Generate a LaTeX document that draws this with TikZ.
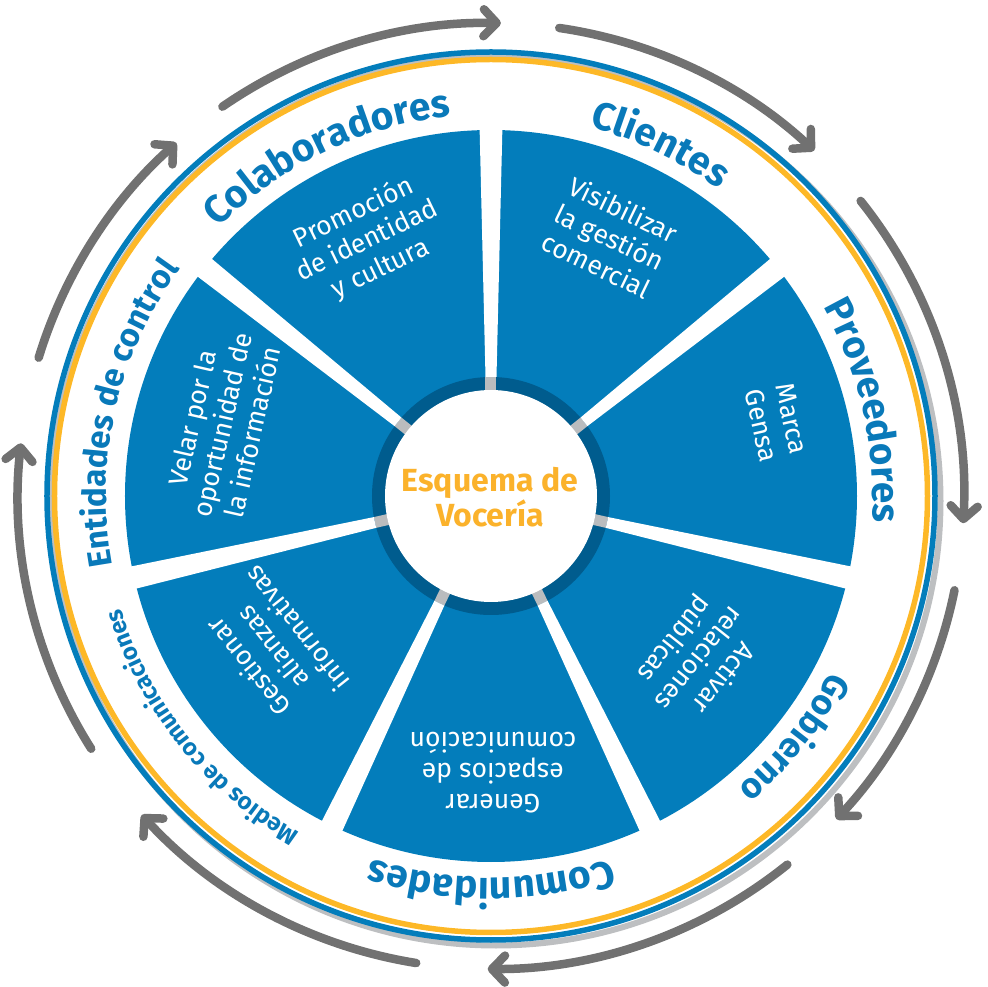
\documentclass[tikz,border=0pt]{standalone}
\usepackage{fontspec}
\setmainfont{Fira Sans}
\usetikzlibrary{arrows.meta,decorations.text}
\definecolor{sectorblue}{HTML}{037DBB}
\definecolor{ringdark}{HTML}{005C8E}
\definecolor{notchgray}{HTML}{BABCBE}
\definecolor{ringyellow}{HTML}{FDB827}
\definecolor{labelblue}{HTML}{0979B9}
\definecolor{titleyellow}{HTML}{FBB22B}
\definecolor{arrowgray}{HTML}{717171}
\definecolor{shadowgray}{HTML}{BDBFC1}
\begin{document}
\begin{tikzpicture}[x=1pt, y=1pt, line join=round, line cap=round,
	cyclearrow/.style={draw=arrowgray, line width=8.5pt, -{Straight Barb[length=13pt, width=27pt, round]}},
	sectortext/.style={text=white, align=center, font=\fontsize{26.5}{31}\selectfont},
	ringlabel/.style 2 args={decorate, decoration={text along path, text align=center,
		text={|\fontsize{#2}{#2}\selectfont\bfseries\color{labelblue}|#1}}}]
	\def\rin{106}
	\def\rdark{119}
	\def\rout{366}
	\useasboundingbox (-491,-491) rectangle (497,496);
	% outer ring
	\draw[shadowgray, line width=6pt] (5,-5) circle[radius=444.5];
	\draw[sectorblue, line width=5.5pt] (0,0) circle[radius=444];
	\draw[ringyellow, line width=5.5pt] (0,0) circle[radius=436.5];
	% sectors
	\fill[sectorblue] (0,0) circle[radius=\rout];
	\fill[ringdark] (0,0) circle[radius=\rdark];
	\foreach \k [evaluate=\k as \a using 90-\k*360/7] in {0,...,6}{
		\fill[notchgray, rotate=\a] (\rin-6,-5.5) -- (\rdark,-5.5) -- (\rdark,5.5) -- (\rin-6,5.5) -- cycle;
		\fill[white, rotate=\a] (\rdark,-5.5) -- (\rout+6,-11.5) -- (\rout+6,11.5) -- (\rdark,5.5) -- cycle;
	}
	\fill[white] (0,0) circle[radius=\rin];
	\node[font=\fontsize{32}{33}\selectfont\bfseries, text=titleyellow, align=center] (esquema) at (-1,-1) {Esquema de\\Vocería};
	% texts in the sectors
	\node[sectortext, rotate=25.71] (promo) at (115.9:283.5) {Promoción\\de identidad\\y cultura};
	\node[sectortext, rotate=-25.71] (visib) at (65.3:285) {Visibilizar\\la gestión\\comercial};
	\node[sectortext, rotate=-77.14] (marca) at (14.5:295) {Marca\\Gensa};
	\node[sectortext, rotate=-128.57] (activar) at (-38:263) {Activar\\relaciones\\públicas};
	\node[sectortext, rotate=180] (generar) at (-89.6:277) {Generar\\espacios de\\comunicación};
	\node[sectortext, rotate=128.57] (gestionar) at (-145.2:266.6) {Gestionar\\alianzas\\informativas};
	\node[sectortext, rotate=77.14] (velar) at (165.2:278) {Velar por la\\oportunidad de\\la información};
	% labels on the ring
	\path[ringlabel={Colaboradores}{39}] (165.71:382) arc[start angle=165.71, end angle=65.71, radius=382];
	\path[ringlabel={Clientes}{39}] (114.29:382) arc[start angle=114.29, end angle=14.29, radius=382];
	\path[ringlabel={Proveedores}{38.5}] (62.86:382) arc[start angle=62.86, end angle=-37.14, radius=382];
	\path[ringlabel={Gobierno}{35.5}] (11.43:382) arc[start angle=11.43, end angle=-88.57, radius=382];
	\path[ringlabel={Comunidades}{39}] (-40:382) arc[start angle=-40, end angle=-140, radius=382];
	\path[ringlabel={Medios de comunicaciones}{24}] (-91.43:387) arc[start angle=-91.43, end angle=-191.43, radius=387];
	\path[ringlabel={Entidades de control}{33}] (217.14:385) arc[start angle=217.14, end angle=117.14, radius=385];
	% cycle arrows
	\foreach \s/\e in {124.6/88.8, 81.7/46.9, 38.6/-3.3, -11.5/-43.1, -51.2/-90.4, -99.1/-137.6, -147.7/-186.4, 163/131.7}
		\draw[cyclearrow] (\s:473) arc[start angle=\s, end angle=\e, radius=473];
\end{tikzpicture}
\end{document}
